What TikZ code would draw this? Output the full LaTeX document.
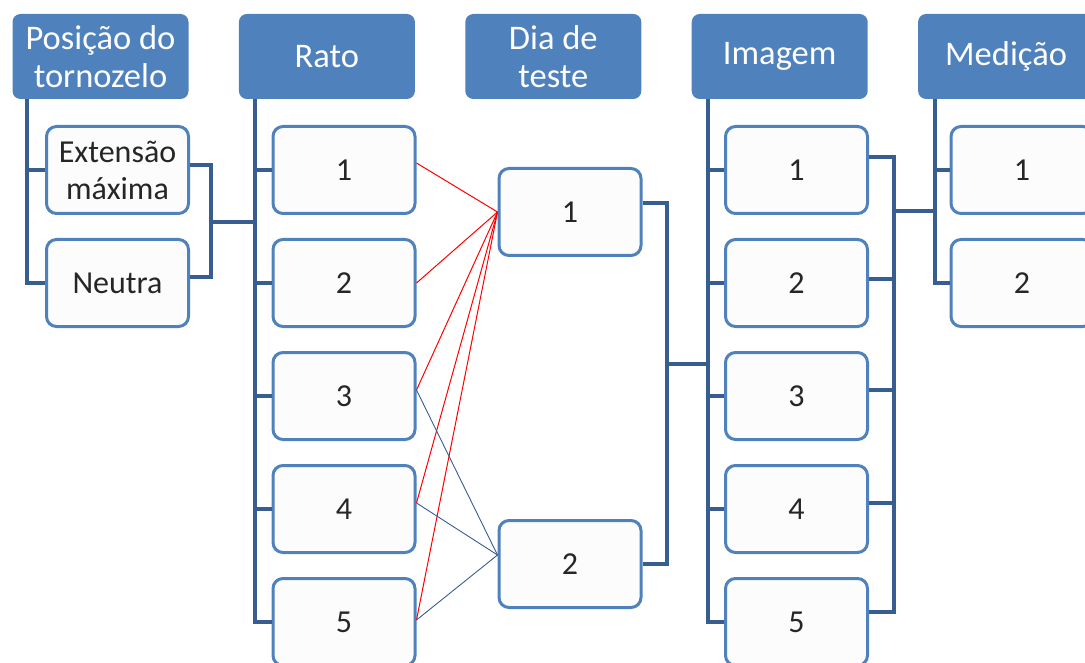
\documentclass[tikz,border=0pt]{standalone}
\usepackage{fontspec}
\setmainfont{Carlito}
\usepackage{tikz}
\usetikzlibrary{positioning}
\definecolor{headblue}{RGB}{79,129,189}
\definecolor{treeblue}{RGB}{56,93,145}
\definecolor{boxfill}{RGB}{252,252,252}

\begin{document}
\begin{tikzpicture}[x=1pt,y=-1pt,
		headnode/.style={rectangle, rounded corners=8pt, fill=headblue, text=white, minimum width=176pt, minimum height=85pt, inner sep=0pt, align=center, font=\fontsize{34.5}{38}\selectfont},
		itemnode/.style={rectangle, rounded corners=10pt, draw=headblue, fill=boxfill, line width=3pt, minimum width=142pt, minimum height=87pt, inner sep=0pt, align=center, text=black!85, font=\fontsize{32}{37}\selectfont},
		treeline/.style={draw=treeblue, line width=4pt},
		linkred/.style={draw=red, line width=1pt},
		linkblue/.style={draw=treeblue, line width=0.9pt},
		node distance=23pt and 50pt
		]
		\useasboundingbox (0,0) rectangle (1085,663);
		\clip (0,0) rectangle (1085,663);
		
		% Headers
		\node[headnode] (Hpos) at (100.5,56.5) {Posição do\\tornozelo};
		\node[headnode] (Hrato) [right=of Hpos] {Rato};
		\node[headnode] (Hdia) [right=of Hrato] {Dia de\\teste};
		\node[headnode] (Himg) [right=of Hdia] {Imagem};
		\node[headnode] (Hmed) [right=of Himg] {Medição};
		
		% Items
		\node[itemnode] (Ext) at (117.5,170) {Extensão\\máxima};
		\node[itemnode] (Neu) [below=of Ext] {Neutra};
		\node[itemnode] (Rato1) at (344,170) {1};
		\node[itemnode] (Rato2) [below=of Rato1] {2};
		\node[itemnode] (Rato3) [below=of Rato2] {3};
		\node[itemnode] (Rato4) [below=of Rato3] {4};
		\node[itemnode] (Rato5) [below=of Rato4] {5};
		\node[itemnode] (Dia1) at (570,212) {1};
		\node[itemnode] (Dia2) at (570,564) {2};
		\node[itemnode] (Img1) at (796.5,170) {1};
		\node[itemnode] (Img2) [below=of Img1] {2};
		\node[itemnode] (Img3) [below=of Img2] {3};
		\node[itemnode] (Img4) [below=of Img3] {4};
		\node[itemnode] (Img5) [below=of Img4] {5};
		\node[itemnode] (Med1) at (1022,170) {1};
		\node[itemnode] (Med2) [below=of Med1] {2};
		
		% Tree lines
		\coordinate (Tpos) at ([xshift=15pt]Hpos.south west);
		\coordinate (Trato) at ([xshift=16pt]Hrato.south west);
		\coordinate (Timg) at ([xshift=16pt]Himg.south west);
		\coordinate (Tmed) at ([xshift=17pt]Hmed.south west);
		\draw[treeline] (Tpos) |- (Neu.west);
		\draw[treeline] (Tpos |- Ext.west) -- (Ext.west);
		\draw[treeline] (Trato) |- (Rato5.west);
		\draw[treeline] (Trato |- Rato1.west) -- (Rato1.west);
		\draw[treeline] (Trato |- Rato2.west) -- (Rato2.west);
		\draw[treeline] (Trato |- Rato3.west) -- (Rato3.west);
		\draw[treeline] (Trato |- Rato4.west) -- (Rato4.west);
		\draw[treeline] (Timg) |- (Img5.west);
		\draw[treeline] (Timg |- Img1.west) -- (Img1.west);
		\draw[treeline] (Timg |- Img2.west) -- (Img2.west);
		\draw[treeline] (Timg |- Img3.west) -- (Img3.west);
		\draw[treeline] (Timg |- Img4.west) -- (Img4.west);
		\draw[treeline] (Tmed) |- (Med2.west);
		\draw[treeline] (Tmed |- Med1.west) -- (Med1.west);
		
		% Brackets
		\coordinate (Jpos) at (211,222);
		\coordinate (Jdia) at (667,364);
		\coordinate (Jimg) at (894,211);
		\draw[treeline] ([yshift=5pt]Ext.east) -| (Jpos) |- ([yshift=6pt]Neu.east);
		\draw[treeline] (Jpos) -- (Jpos -| Trato);
		\draw[treeline] ([yshift=9pt]Dia1.east) -| (Jdia) |- (Dia2.east);
		\draw[treeline] (Jdia) -- (Jdia -| Timg);
		\draw[treeline] ([yshift=13pt]Img1.east) -| (Jimg) |- ([yshift=10pt]Img5.east);
		\draw[treeline] ([yshift=4pt]Img2.east) -- ([yshift=4pt]Img2.east -| Jimg);
		\draw[treeline] ([yshift=6pt]Img3.east) -- ([yshift=6pt]Img3.east -| Jimg);
		\draw[treeline] ([yshift=6pt]Img4.east) -- ([yshift=6pt]Img4.east -| Jimg);
		\draw[treeline] (Jimg) -- (Jimg -| Tmed);
		
		% Links
		\path[linkred] ([yshift=7pt]Rato1.east) edge (Dia1.west);
		\path[linkred] (Rato2.east) edge (Dia1.west);
		\path[linkred] ([yshift=6pt]Rato3.east) edge (Dia1.west);
		\path[linkred] ([yshift=6pt]Rato4.east) edge (Dia1.west);
		\path[linkred] ([yshift=2pt]Rato5.east) edge (Dia1.west);
		\path[linkblue] ([yshift=6pt]Rato3.east) edge ([yshift=9pt]Dia2.west);
		\path[linkblue] ([yshift=6pt]Rato4.east) edge ([yshift=9pt]Dia2.west);
		\path[linkblue] ([yshift=2pt]Rato5.east) edge ([yshift=9pt]Dia2.west);
	\end{tikzpicture}
\end{document}
